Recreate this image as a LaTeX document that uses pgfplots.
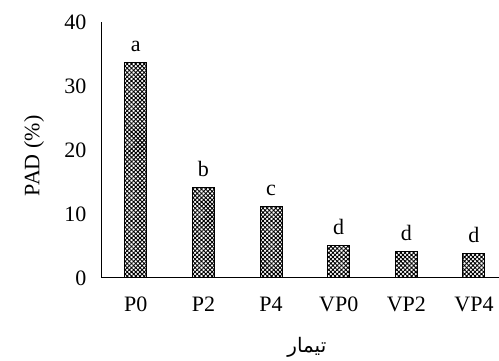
\documentclass[border=0pt]{standalone}
\usepackage{fontspec}
\setmainfont{Liberation Serif}
\newfontfamily\arabicfont[Script=Arabic]{DejaVu Sans}
\TeXXeTstate=1
\usepackage{pgfplots}
\pgfplotsset{compat=1.18}
\usetikzlibrary{patterns.meta}
\begin{document}
\begin{tikzpicture}
\path[use as bounding box] (-102pt,-83pt) rectangle (397pt,278pt);
\begin{axis}[
  at={(0,0)}, anchor=south west,
  scale only axis, width=397pt, height=256pt,
  xmin=-0.5, xmax=5.37, ymin=0, ymax=40,
  axis lines=left, axis line style={-, black, line width=1pt},
  xtick=data, xticklabels={P0,P2,P4,VP0,VP2,VP4},
  ytick={0,10,20,30,40},
  major tick length=0pt,
  tick label style={font=\fontsize{22}{26}\selectfont},
  /pgf/number format/assume math mode=true,
  xticklabel style={yshift=-15pt},
  yticklabel style={xshift=-12pt},
  ylabel={PAD (\%)},
  ylabel style={font=\fontsize{22}{26}\selectfont, at={(axis description cs:0,0.477)}, anchor=center, yshift=68pt},
  xlabel={\arabicfont\beginR تیمار\endR},
  xlabel style={font=\fontsize{20}{24}\selectfont, at={(axis description cs:0.516,0)}, anchor=center, yshift=-69pt},
  clip=false,
]
\addplot[ybar, bar width=22pt, draw=black, line width=1pt,
  pattern={Hatch[angle=45, distance=3pt, line width=0.9pt]}, pattern color=black,
  point meta=explicit symbolic, nodes near coords,
  nodes near coords style={font=\fontsize{22}{26}\selectfont, yshift=7pt}]
coordinates {(0,33.7) [a] (1,14.2) [b] (2,11.1) [c] (3,5.0) [d] (4,4.1) [d] (5,3.8) [d]};
\end{axis}
\end{tikzpicture}
\end{document}
